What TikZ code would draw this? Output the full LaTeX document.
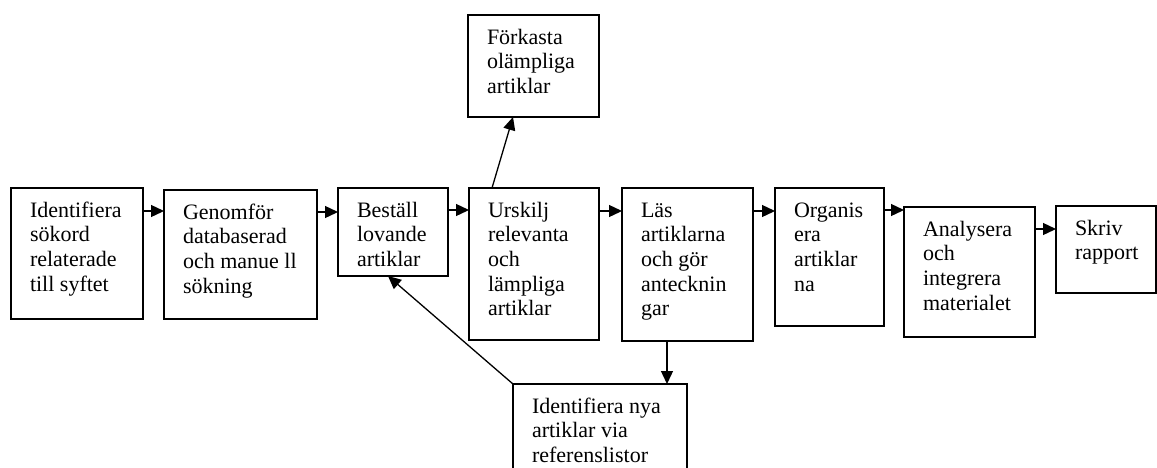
\documentclass[tikz,border=0pt]{standalone}
\usepackage{fontspec}
\setmainfont{Liberation Serif}
\usetikzlibrary{arrows.meta}

\newlength\pixel
\setlength\pixel{0.5pt}
% text of a box: width, height (pixels), lines
\newcommand{\steptext}[3]{\parbox[c][#2\pixel][t]{\dimexpr#1\pixel-19pt\relax}{\raggedright\vspace*{6pt}\strut#3}}

\begin{document}
\begin{tikzpicture}[x=0.5pt, y=-0.5pt,
    box/.style={draw, line width=0.75pt, anchor=north west, inner xsep=9.5pt, inner ysep=0pt,
                outer sep=0pt, font=\fontsize{11pt}{12.3pt}\selectfont},
    flow/.style={-{Triangle[length=6.5pt,width=6pt]}, line width=0.65pt}]
            \useasboundingbox (0, 0) rectangle (1157, 467);

            % Boxes
            \node [box] (ident) at (11, 188) {\steptext{132}{131}{Identifiera\\sökord\\relaterade\\till syftet}};
            \node [box] (genom) at (164, 190) {\steptext{153}{129}{Genomför\\databaserad\\och manue ll\\sökning}};
            \node [box] (bestall) at (338, 188) {\steptext{110}{88}{Beställ\\lovande\\artiklar}};
            \node [box] (urskilj) at (469, 188) {\steptext{130}{152}{Urskilj\\relevanta\\och\\lämpliga\\artiklar}};
            \node [box] (forkasta) at (468, 15) {\steptext{131}{102}{Förkasta\\olämpliga\\artiklar}};
            \node [box] (las) at (622, 188) {\steptext{131}{153}{Läs\\artiklarna\\och gör\\antecknin\\gar}};
            \node [box] (organis) at (775, 188) {\steptext{109}{138}{Organis\\era\\artiklar\\na}};
            \node [box] (analys) at (904, 207) {\steptext{131}{130}{Analysera\\och\\integrera\\materialet}};
            \node [box] (skriv) at (1056, 206) {\steptext{100}{87}{Skriv\\rapport}};
            \node [box] (nyref) at (513, 384) {\steptext{174}{110}{Identifiera nya\\artiklar via\\referenslistor}};

            % Arrows along the row
            \coordinate (a1) at ([yshift=-11.5pt]ident.north east);
            \coordinate (a2) at ([yshift=-11pt]genom.north east);
            \coordinate (a3) at ([yshift=-11pt]bestall.north east);
            \coordinate (a4) at ([yshift=-11.5pt]urskilj.north east);
            \coordinate (a5) at ([yshift=-11.5pt]las.north east);
            \coordinate (a6) at ([yshift=-11pt]organis.north east);
            \coordinate (a7) at ([yshift=-11pt]analys.north east);
            \draw[flow] (a1) -- (a1 -| genom.west);
            \draw[flow] (a2) -- (a2 -| bestall.west);
            \draw[flow] (a3) -- (a3 -| urskilj.west);
            \draw[flow] (a4) -- (a4 -| las.west);
            \draw[flow] (a5) -- (a5 -| organis.west);
            \draw[flow] (a6) -- (a6 -| analys.west);
            \draw[flow] (a7) -- (a7 -| skriv.west);

            % Side arrows
            \draw[flow] ([xshift=11.5pt]urskilj.north west) -- ([xshift=22.5pt]forkasta.south west);
            \coordinate (l1) at ([xshift=22.5pt]las.south west);
            \draw[flow] (l1) -- (l1 |- nyref.north);
            \draw[flow] (nyref.north west) -- ([xshift=25pt]bestall.south west);
\end{tikzpicture}
\end{document}
